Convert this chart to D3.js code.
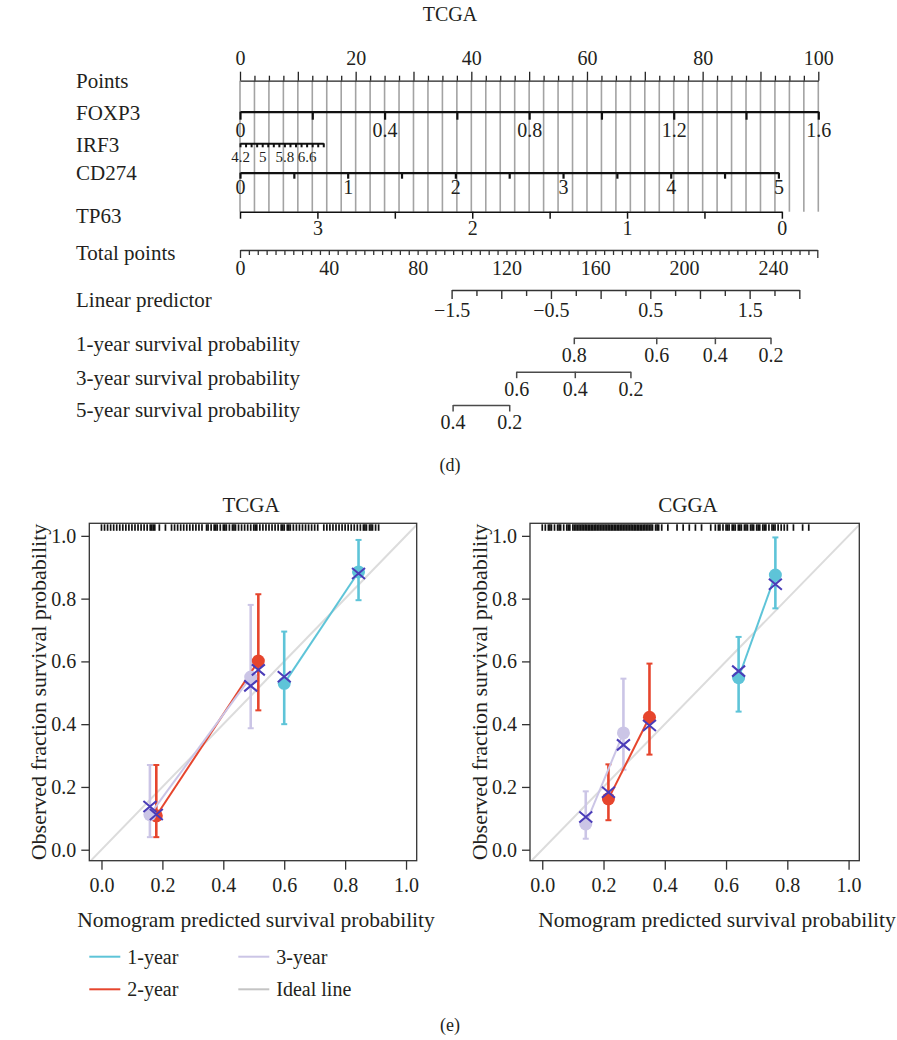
<!DOCTYPE html>
<html>
<head>
<meta charset="utf-8">
<script src="https://cdn.jsdelivr.net/npm/d3@7"></script>
<style>
  body { margin: 0; background: #fff; }
</style>
</head>
<body>
<svg width="897" height="1040"></svg>
<script>
// Data

// nomogram scales (value ranges and the points they map to)
const pointsLabels = [0, 20, 40, 60, 80, 100];

const foxp3Range = [0, 1.6];
const foxp3Points = [0, 100];
const foxp3Ticks = [0, 0.2, 0.4, 0.6, 0.8, 1.0, 1.2, 1.4, 1.6];
const foxp3Labels = [0, 0.4, 0.8, 1.2, 1.6];

const irf3Range = [4.2, 7.2];
const irf3Points = [0, 14.4];
const irf3Ticks = [4.2, 4.4, 4.6, 4.8, 5.0, 5.2, 5.4, 5.6, 5.8, 6.0, 6.2, 6.4, 6.6, 6.8, 7.0, 7.2];
const irf3Labels = [4.2, 5, 5.8, 6.6];

const cd274Range = [0, 5];
const cd274Points = [0, 93.1];
const cd274Ticks = [0, 0.5, 1, 1.5, 2, 2.5, 3, 3.5, 4, 4.5, 5];
const cd274Labels = [0, 1, 2, 3, 4, 5];

const tp63Range = [3.5, 0];
const tp63Points = [0, 93.7];
const tp63Ticks = [3.5, 3, 2.5, 2, 1.5, 1, 0.5, 0];
const tp63Labels = [3, 2, 1, 0];

const totalRange = [0, 260];
const totalLabels = [0, 40, 80, 120, 160, 200, 240];

const lpRange = [-1.5, 2.0];
const lpTotal = [95.3, 251.9];
const lpTicks = [-1.5, -1.25, -1, -0.75, -0.5, -0.25, 0, 0.25, 0.5, 0.75, 1, 1.25, 1.5, 1.75, 2];
const lpLabels = [-1.5, -0.5, 0.5, 1.5];

// survival probability ticks and the linear predictor they sit on
const surv1 = [0.8, 0.6, 0.4, 0.2];
const surv1Lp = [-0.27, 0.56, 1.15, 1.71];
const surv3 = [0.6, 0.4, 0.2];
const surv3Lp = [-0.85, -0.26, 0.30];
const surv5 = [0.4, 0.2];
const surv5Lp = [-1.49, -0.92];

// calibration: predicted, observed, CI, bias-corrected
const tcga1Year = [
  {pred: 0.600, obs: 0.530, lo: 0.400, hi: 0.695, corr: 0.551},
  {pred: 0.844, obs: 0.885, lo: 0.795, hi: 0.987, corr: 0.880}
];
const tcga2Year = [
  {pred: 0.180, obs: 0.108, lo: 0.040, hi: 0.270, corr: 0.112},
  {pred: 0.515, obs: 0.601, lo: 0.444, hi: 0.814, corr: 0.573}
];
const tcga3Year = [
  {pred: 0.159, obs: 0.112, lo: 0.040, hi: 0.270, corr: 0.138},
  {pred: 0.490, obs: 0.550, lo: 0.387, hi: 0.780, corr: 0.522}
];
const cgga1Year = [
  {pred: 0.641, obs: 0.548, lo: 0.440, hi: 0.678, corr: 0.569},
  {pred: 0.761, obs: 0.875, lo: 0.769, hi: 0.995, corr: 0.846}
];
const cgga2Year = [
  {pred: 0.216, obs: 0.162, lo: 0.094, hi: 0.272, corr: 0.183},
  {pred: 0.350, obs: 0.422, lo: 0.303, hi: 0.593, corr: 0.396}
];
const cgga3Year = [
  {pred: 0.142, obs: 0.082, lo: 0.035, hi: 0.186, corr: 0.104},
  {pred: 0.265, obs: 0.372, lo: 0.255, hi: 0.545, corr: 0.334}
];

// rug of predicted values along the top
const tcgaRug = [0.00, 0.01, 0.02, 0.03, 0.04, 0.05, 0.06, 0.07, 0.08, 0.09, 0.10, 0.11, 0.12, 0.13, 0.14,
  0.15, 0.16, 0.165, 0.17, 0.175, 0.19, 0.21, 0.23, 0.24, 0.25, 0.26, 0.27, 0.28, 0.29, 0.30, 0.31, 0.32,
  0.33, 0.345, 0.35, 0.36, 0.37, 0.375, 0.38, 0.39, 0.40, 0.405, 0.41, 0.42, 0.43, 0.435, 0.44, 0.45, 0.46,
  0.47, 0.48, 0.49, 0.50, 0.505, 0.51, 0.52, 0.53, 0.54, 0.55, 0.56, 0.57, 0.58, 0.59, 0.595, 0.60, 0.61,
  0.615, 0.62, 0.63, 0.64, 0.65, 0.66, 0.67, 0.68, 0.69, 0.70, 0.71, 0.73, 0.74, 0.75, 0.76, 0.77, 0.78,
  0.79, 0.80, 0.81, 0.82, 0.83, 0.84, 0.85, 0.86, 0.865, 0.87, 0.88, 0.885, 0.89, 0.90, 0.91];
const cggaRug = [0.00, 0.01, 0.02, 0.025, 0.03, 0.04, 0.05, 0.055, 0.06, 0.07, 0.08, 0.085, 0.09, 0.10, 0.105,
  0.11, 0.115, 0.12, 0.125, 0.13, 0.135, 0.14, 0.145, 0.15, 0.155, 0.16, 0.165, 0.17, 0.175, 0.18, 0.185,
  0.19, 0.195, 0.20, 0.205, 0.21, 0.215, 0.22, 0.225, 0.23, 0.235, 0.24, 0.245, 0.25, 0.255, 0.26, 0.265,
  0.27, 0.275, 0.28, 0.285, 0.29, 0.295, 0.30, 0.305, 0.31, 0.315, 0.32, 0.325, 0.33, 0.335, 0.34, 0.345,
  0.35, 0.355, 0.36, 0.37, 0.375, 0.38, 0.39, 0.41, 0.44, 0.46, 0.48, 0.50, 0.52, 0.55, 0.565, 0.575, 0.58,
  0.59, 0.60, 0.605, 0.61, 0.62, 0.625, 0.63, 0.64, 0.645, 0.65, 0.66, 0.665, 0.67, 0.68, 0.685, 0.69, 0.70,
  0.705, 0.71, 0.72, 0.725, 0.73, 0.74, 0.75, 0.755, 0.76, 0.77, 0.78, 0.79, 0.80, 0.82, 0.85, 0.87];

const calTicks = [0, 0.2, 0.4, 0.6, 0.8, 1.0];
const seriesNames = ["1-year", "2-year", "3-year"];
const legendNames = ["1-year", "2-year", "3-year", "Ideal line"];

//###############################################
// Setup
//###############################################
const serif = '"Liberation Serif", "DejaVu Serif", serif';
const ink = "#231f20";
const colors = {"1-year": "#5ec4d8", "2-year": "#e6452d", "3-year": "#cbc5e6", "Ideal line": "#c4c4c4"};

let svg = d3.select("svg")
  .attr("font-family", serif)
  .style("background", "#fff");

let fmt = d => d < 0 ? "\u2212" + Math.abs(d) : String(d);
let has = (list, d) => list.some(v => Math.abs(v - d) < 1e-6);

let styleAxis = function(g, width, color, font) {
  g.attr("font-family", serif).attr("font-size", font);
  g.select(".domain").attr("stroke", color).attr("stroke-width", width);
  g.selectAll(".tick line").attr("stroke", color).attr("stroke-width", width);
  g.selectAll(".tick text").attr("fill", ink).attr("font-size", font);
};

let label = function(parent, x, y, txt, size, anchor) {
  return parent.append("text")
    .attr("x", x).attr("y", y)
    .attr("font-size", size)
    .attr("text-anchor", anchor || "start")
    .attr("fill", ink)
    .text(txt);
};

//###############################################
// Nomogram
//###############################################
let pointsX = d3.scaleLinear([0, 100], [240, 818.3]);
let totalX = d3.scaleLinear(totalRange, [240, 817.3]);
let lpToTotal = d3.scaleLinear(lpRange, lpTotal);

let nomo = svg.append("g").attr("id", "nomogram");

label(nomo, 450, 21, "TCGA", 20, "middle");

// grid
nomo.append("g").attr("id", "grid")
  .selectAll("line")
  .data(d3.range(0, 100.001, 2.5))
  .enter().append("line")
    .attr("x1", d => pointsX(d)).attr("x2", d => pointsX(d))
    .attr("y1", 80.7).attr("y2", 211.7)
    .attr("stroke", "#a3a3a3")
    .attr("stroke-width", 1.6);

// points axis
let pointsAxis = nomo.append("g")
  .attr("transform", "translate(0,80.7)")
  .call(d3.axisTop(pointsX)
    .tickValues(d3.range(0, 100.001, 2.5))
    .tickSize(5).tickSizeOuter(0).tickPadding(10.7)
    .tickFormat(d => has(pointsLabels, d) ? fmt(d) : ""));
pointsAxis.selectAll(".tick line").filter(d => d % 10 === 0).attr("y2", -9);
styleAxis(pointsAxis, 1.3, "#222", 20);
label(nomo, 76, 88.3, "Points", 21);

// predictor rows
let rows = [
  {name: "FOXP3", y: 111.7, ly: 120, domain: foxp3Range, pts: foxp3Points, ticks: foxp3Ticks, labels: foxp3Labels, tick: 8, pad: 3, width: 2.2, font: 20},
  {name: "IRF3", y: 143.3, ly: 151.7, domain: irf3Range, pts: irf3Points, ticks: irf3Ticks, labels: irf3Labels, tick: 4, pad: 4, width: 2, font: 15},
  {name: "CD274", y: 172.7, ly: 180, domain: cd274Range, pts: cd274Points, ticks: cd274Ticks, labels: cd274Labels, tick: 6, pad: 1, width: 2.2, font: 20},
  {name: "TP63", y: 211.7, ly: 223.3, domain: tp63Range, pts: tp63Points, ticks: tp63Ticks, labels: tp63Labels, tick: 7, pad: 2.5, width: 1.5, font: 20}
];

rows.forEach(r => {
  let scale = d3.scaleLinear(r.domain, r.pts.map(pointsX));
  let g = nomo.append("g")
    .attr("transform", `translate(0,${r.y})`)
    .call(d3.axisBottom(scale)
      .tickValues(r.ticks)
      .tickSize(r.tick).tickSizeOuter(0).tickPadding(r.pad)
      .tickFormat(d => has(r.labels, d) ? fmt(d) : ""));
  styleAxis(g, r.width, "#111", r.font);
  label(nomo, 76, r.ly, r.name, 21);
});

// total points
let totalAxis = nomo.append("g")
  .attr("transform", "translate(0,250)")
  .call(d3.axisBottom(totalX)
    .tickValues(d3.range(0, 260.001, 4))
    .tickSize(5).tickSizeOuter(0).tickPadding(6)
    .tickFormat(d => has(totalLabels, d) ? fmt(d) : ""));
totalAxis.selectAll(".tick line").filter(d => d === 0 || d === 260).attr("y2", 8);
styleAxis(totalAxis, 1.3, "#333", 20);
label(nomo, 76, 260, "Total points", 21);

// linear predictor
let lpX = v => totalX(lpToTotal(v));
let lpScale = d3.scaleLinear(lpRange, lpRange.map(lpX));
let lpAxis = nomo.append("g")
  .attr("transform", "translate(0,290)")
  .call(d3.axisBottom(lpScale)
    .tickValues(lpTicks)
    .tickSize(6).tickSizeOuter(0).tickPadding(7)
    .tickFormat(d => has(lpLabels, d) ? fmt(d) : ""));
lpAxis.selectAll(".tick line").filter(d => Math.abs(d * 2 - Math.round(d * 2)) < 1e-6).attr("y2", 9);
styleAxis(lpAxis, 1.4, "#333", 20);
label(nomo, 76, 306.7, "Linear predictor", 21);

// survival probabilities
let survRows = [
  {name: "1-year survival probability", y: 337.7, ly: 350.5, probs: surv1, lps: surv1Lp},
  {name: "3-year survival probability", y: 371.7, ly: 385, probs: surv3, lps: surv3Lp},
  {name: "5-year survival probability", y: 405, ly: 416.5, probs: surv5, lps: surv5Lp}
];
survRows.forEach(r => {
  let scale = d3.scaleLinear(r.probs, r.lps.map(lpX));
  let g = nomo.append("g")
    .attr("transform", `translate(0,${r.y})`)
    .call(d3.axisBottom(scale)
      .tickValues(r.probs)
      .tickSize(6.5).tickSizeOuter(0).tickPadding(3.5)
      .tickFormat(d => fmt(d)));
  styleAxis(g, 1.5, "#4a4a4a", 20);
  label(nomo, 76, r.ly, r.name, 21);
});

label(svg, 450, 471, "(d)", 18, "middle");

//###############################################
// Calibration plots
//###############################################
let panels = [
  {title: "TCGA", left: 89.3, right: 416.7, tx: 251, xt: 256, yt: 40,
    series: [tcga1Year, tcga2Year, tcga3Year], rug: tcgaRug},
  {title: "CGGA", left: 530, right: 859.3, tx: 688, xt: 717, yt: 481,
    series: [cgga1Year, cgga2Year, cgga3Year], rug: cggaRug}
];

let calibrationPanel = function(p) {
  let top = 523.3, bottom = 860.7;
  let g = svg.append("g").attr("id", "cal-" + p.title);
  let x = d3.scaleLinear([-0.04, 1.035], [p.left, p.right]);
  let y = d3.scaleLinear([-0.035, 1.04], [bottom, top]);

  let clipId = "clip-" + p.title;
  g.append("clipPath").attr("id", clipId)
    .append("rect")
      .attr("x", p.left).attr("y", top)
      .attr("width", p.right - p.left).attr("height", bottom - top);

  // ideal line
  g.append("line")
    .attr("clip-path", `url(#${clipId})`)
    .attr("x1", x(-0.1)).attr("y1", y(-0.1))
    .attr("x2", x(1.1)).attr("y2", y(1.1))
    .attr("stroke", "#dcdcdc")
    .attr("stroke-width", 2);

  // rug
  g.append("g")
    .selectAll("line")
    .data(p.rug)
    .enter().append("line")
      .attr("x1", d => x(d)).attr("x2", d => x(d))
      .attr("y1", top + 1).attr("y2", top + 7.5)
      .attr("stroke", "#111")
      .attr("stroke-width", 1.7);

  let series = p.series.map((data, i) => ({name: seriesNames[i], data: data}));

  // error bars
  series.forEach(s => {
    let eb = g.append("g").selectAll("g").data(s.data).enter().append("g")
      .attr("stroke", colors[s.name]);
    eb.append("line")
      .attr("x1", d => x(d.pred)).attr("x2", d => x(d.pred))
      .attr("y1", d => y(d.lo)).attr("y2", d => y(d.hi))
      .attr("stroke-width", 2.6);
    eb.append("line")
      .attr("x1", d => x(d.pred) - 3).attr("x2", d => x(d.pred) + 3)
      .attr("y1", d => y(d.lo)).attr("y2", d => y(d.lo))
      .attr("stroke-width", 2);
    eb.append("line")
      .attr("x1", d => x(d.pred) - 3).attr("x2", d => x(d.pred) + 3)
      .attr("y1", d => y(d.hi)).attr("y2", d => y(d.hi))
      .attr("stroke-width", 2);
  });

  // connecting lines and points
  let line = d3.line().x(d => x(d.pred)).y(d => y(d.obs));
  series.forEach(s => {
    g.append("path")
      .datum(s.data)
      .attr("d", line)
      .attr("fill", "none")
      .attr("stroke", colors[s.name])
      .attr("stroke-width", 2);
    g.append("g").selectAll("circle").data(s.data).enter().append("circle")
      .attr("cx", d => x(d.pred)).attr("cy", d => y(d.obs))
      .attr("r", 6.5)
      .attr("fill", colors[s.name]);
  });

  // bias-corrected crosses
  series.forEach(s => {
    g.append("g").selectAll("path").data(s.data).enter().append("path")
      .attr("transform", d => `translate(${x(d.pred)},${y(d.corr)})`)
      .attr("d", "M-6.5,-5.5L6.5,5.5M-6.5,5.5L6.5,-5.5")
      .attr("fill", "none")
      .attr("stroke", "#4a3cb8")
      .attr("stroke-width", 2);
  });

  // box
  g.append("rect")
    .attr("x", p.left).attr("y", top)
    .attr("width", p.right - p.left).attr("height", bottom - top)
    .attr("fill", "none")
    .attr("stroke", "#333")
    .attr("stroke-width", 1.3);

  // axes
  let yAxis = g.append("g")
    .attr("transform", `translate(${p.left},0)`)
    .call(d3.axisLeft(y).tickValues(calTicks).tickFormat(d3.format(".1f"))
      .tickSize(8).tickSizeOuter(0).tickPadding(5));
  yAxis.select(".domain").remove();
  styleAxis(yAxis, 1.3, "#333", 20);

  let xAxis = g.append("g")
    .attr("transform", `translate(0,${bottom})`)
    .call(d3.axisBottom(x).tickValues(calTicks).tickFormat(d3.format(".1f"))
      .tickSize(9).tickSizeOuter(0).tickPadding(8));
  xAxis.select(".domain").remove();
  styleAxis(xAxis, 1.3, "#333", 20);

  label(g, p.tx, 512, p.title, 21, "middle");
  label(g, p.xt, 927, "Nomogram predicted survival probability", 21.5, "middle");
  label(g, 0, 0, "Observed fraction survival probability", 22, "middle")
    .attr("transform", `translate(${p.yt + 6},${(top + bottom) / 2}) rotate(-90)`);
};

panels.forEach(calibrationPanel);

//###############################################
// Legend
//###############################################
let legend = svg.append("g").attr("id", "legend");
let item = legend.selectAll("g")
  .data(legendNames)
  .enter().append("g")
    .attr("transform", (d, i) => `translate(${i < 2 ? 89.3 : 238.3},${i % 2 === 0 ? 956.7 : 989.3})`);
item.append("line")
  .attr("x1", 0).attr("x2", 31)
  .attr("stroke", d => colors[d])
  .attr("stroke-width", 2);
item.append("text")
  .attr("x", 38).attr("dy", "0.35em")
  .attr("font-size", 20)
  .attr("fill", ink)
  .text(d => d);

label(svg, 450, 1031, "(e)", 18, "middle");
</script>
</body>
</html>
